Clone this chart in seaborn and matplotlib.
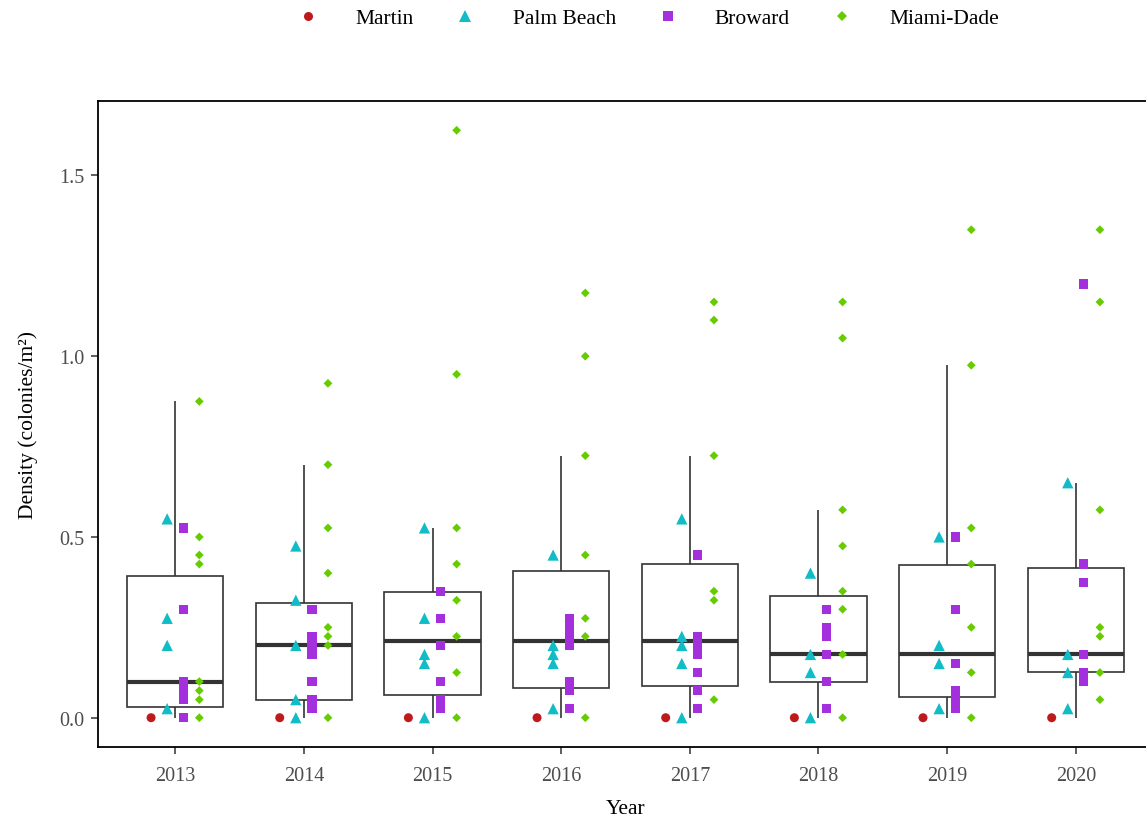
import numpy as np
import pandas as pd
import matplotlib
matplotlib.use("Agg")
import matplotlib.pyplot as plt
import seaborn as sns

# ---------------- data ----------------
years = [2013, 2014, 2015, 2016, 2017, 2018, 2019, 2020]
counties = ["Martin", "Palm Beach", "Broward", "Miami-Dade"]

martin = [[0.0], [0.0], [0.0], [0.0], [0.0], [0.0], [0.0], [0.0]]
palm_beach = [
    [0.55, 0.275, 0.2, 0.025],
    [0.475, 0.325, 0.2, 0.05, 0.0],
    [0.525, 0.275, 0.175, 0.15, 0.0],
    [0.45, 0.2, 0.175, 0.15, 0.025],
    [0.55, 0.225, 0.2, 0.15, 0.0],
    [0.4, 0.175, 0.125, 0.0],
    [0.5, 0.2, 0.15, 0.025],
    [0.65, 0.175, 0.125, 0.025],
]
broward = [
    [0.525, 0.3, 0.1, 0.075, 0.05, 0.0],
    [0.3, 0.225, 0.2, 0.175, 0.1, 0.05, 0.025],
    [0.35, 0.275, 0.2, 0.1, 0.05, 0.025],
    [0.275, 0.25, 0.225, 0.2, 0.1, 0.075, 0.025],
    [0.45, 0.225, 0.2, 0.175, 0.125, 0.075, 0.025],
    [0.3, 0.25, 0.225, 0.175, 0.1, 0.025],
    [0.5, 0.3, 0.15, 0.075, 0.05, 0.025],
    [1.2, 0.425, 0.375, 0.175, 0.125, 0.1],
]
miami_dade = [
    [0.875, 0.5, 0.45, 0.425, 0.1, 0.075, 0.05, 0.0],
    [0.925, 0.7, 0.525, 0.4, 0.25, 0.225, 0.2, 0.0],
    [1.625, 0.95, 0.525, 0.425, 0.325, 0.225, 0.125, 0.0],
    [1.175, 1.0, 0.725, 0.45, 0.275, 0.225, 0.0],
    [1.15, 1.1, 0.725, 0.35, 0.325, 0.05],
    [1.15, 1.05, 0.575, 0.475, 0.35, 0.3, 0.175, 0.0],
    [1.35, 0.975, 0.525, 0.425, 0.25, 0.125, 0.0],
    [1.35, 1.15, 0.575, 0.25, 0.225, 0.125, 0.05],
]

# box-plot summaries
whisker_low = [0.0, 0.0, 0.0, 0.0, 0.0, 0.0, 0.0, 0.0]
box_q1 = [0.031, 0.05, 0.0635, 0.083, 0.088, 0.1, 0.057, 0.126]
box_median = [0.1, 0.2, 0.212, 0.212, 0.212, 0.175, 0.175, 0.175]
box_q3 = [0.393, 0.318, 0.349, 0.405, 0.424, 0.338, 0.423, 0.413]
whisker_high = [0.875, 0.7, 0.525, 0.725, 0.725, 0.575, 0.975, 0.65]

y_ticks = [0.0, 0.5, 1.0, 1.5]
y_ticklabels = ["0.0", "0.5", "1.0", "1.5"]

# ---------------- styles ----------------
colors = {"Martin": "#BD1A1E", "Palm Beach": "#10BCC6",
          "Broward": "#A42FDC", "Miami-Dade": "#66CC00"}
markers = {"Martin": "o", "Palm Beach": "^", "Broward": "s", "Miami-Dade": "D"}
msizes = {"Martin": 42, "Palm Beach": 66, "Broward": 44, "Miami-Dade": 20}
legend_msize = {"Martin": 6.5, "Palm Beach": 8.0, "Broward": 6.6, "Miami-Dade": 5.4}
dodge = {"Martin": -0.1875, "Palm Beach": -0.0625, "Broward": 0.0625, "Miami-Dade": 0.1875}

# ---------------- tables ----------------
series = {"Martin": martin, "Palm Beach": palm_beach,
          "Broward": broward, "Miami-Dade": miami_dade}
rows = []
for county in counties:
    for yr, vals in zip(years, series[county]):
        for v in vals:
            rows.append({"Year": yr, "County": county, "Density": v,
                         "xpos": yr + dodge[county]})
pts = pd.DataFrame(rows)

box_rows = []
for i, yr in enumerate(years):
    for v in (whisker_low[i], box_q1[i], box_median[i], box_q3[i], whisker_high[i]):
        box_rows.append({"Year": yr, "Density": v})
boxdf = pd.DataFrame(box_rows)

# ---------------- figure ----------------
sns.set_theme(style="white")
plt.rcParams["font.family"] = ["Liberation Serif", "DejaVu Serif"]
plt.rcParams["text.color"] = "black"

W, H = 1146, 820
fig = plt.figure(figsize=(W / 100, H / 100), dpi=100)
left, right, top, bottom = 98, 1153, 102, 748
ax = fig.add_axes([left / W, 1 - bottom / H, (right - left) / W, (bottom - top) / H])

sns.boxplot(data=boxdf, x="Year", y="Density", native_scale=True, width=0.75,
            whis=(0, 100), showfliers=False, showcaps=False, color="white",
            linecolor="#333333", linewidth=1.2,
            medianprops={"linewidth": 3.0, "color": "#333333"},
            ax=ax, zorder=1)

sns.scatterplot(data=pts, x="xpos", y="Density", hue="County", style="County",
                size="County", hue_order=counties, style_order=counties,
                size_order=counties, palette=colors, markers=markers,
                sizes=msizes, linewidth=0, ax=ax, zorder=3)

ax.set_xlim(years[0] - 0.6, years[-1] + 0.6)
ax.set_ylim(-0.081, 1.706)
ax.set_xticks(years)
ax.set_xticklabels([str(y) for y in years])
ax.set_yticks(y_ticks)
ax.set_yticklabels(y_ticklabels)
ax.tick_params(axis="both", which="both", bottom=True, left=True, direction="out",
               length=5, width=1.1, color="#333333", labelsize=14.5,
               labelcolor="#4D4D4D")
ax.tick_params(axis="x", pad=9)
ax.tick_params(axis="y", pad=5)
for s in ax.spines.values():
    s.set_visible(True)
    s.set_color("black")
    s.set_linewidth(1.3)
ax.grid(False)
ax.set_facecolor("white")
ax.set_xlabel("Year", fontsize=15.5, color="black", labelpad=10)
ax.set_ylabel("Density (colonies/m²)", fontsize=15.5, color="black", labelpad=15)

sns.move_legend(ax, "center", bbox_to_anchor=(648 / W, 1 - 19 / H),
                bbox_transform=fig.transFigure, ncol=4, frameon=False, title=None,
                fontsize=15.5, handlelength=1.0, handletextpad=1.7,
                columnspacing=1.9, markerscale=1.0)
leg = ax.get_legend()
for t, h in zip(leg.get_texts(), leg.legend_handles):
    t.set_color("black")
    name = t.get_text()
    if name in legend_msize and hasattr(h, "set_markersize"):
        h.set_markersize(legend_msize[name])

fig.savefig("out.png", dpi=100, facecolor="white")
